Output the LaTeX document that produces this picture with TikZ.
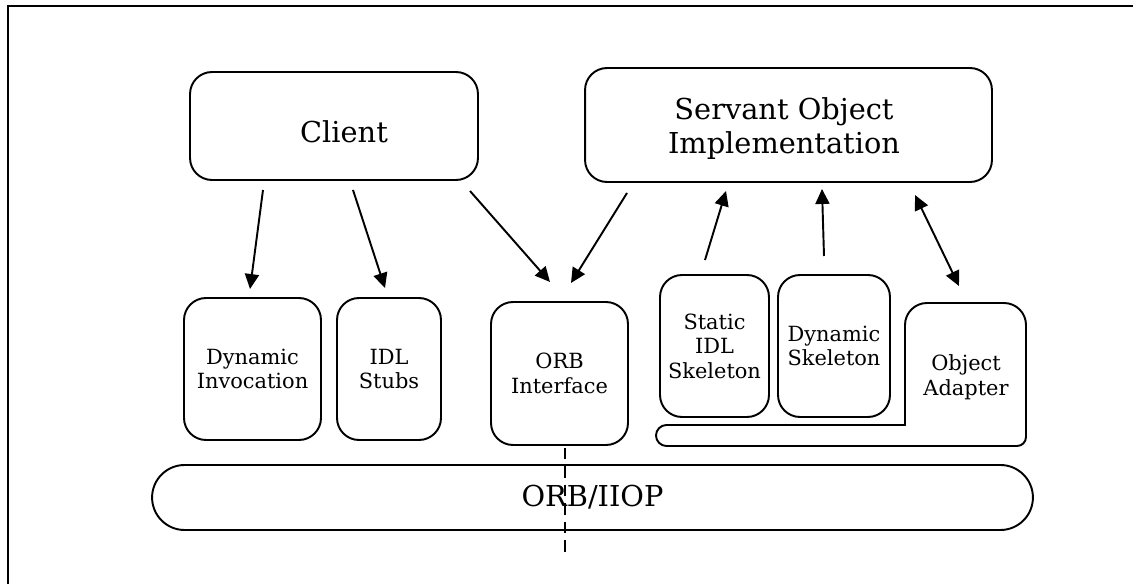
\documentclass[tikz,border=0pt]{standalone}
\usepackage{fontspec}
\setmainfont{DejaVu Serif}
\usetikzlibrary{arrows.meta}
\tikzset{
  box/.style={draw, line width=1.1pt, rounded corners=0.44cm, inner sep=0pt, align=center},
  bigtext/.style={font=\fontsize{16.4}{19.3}\selectfont},
  smalltext/.style={font=\fontsize{11.9}{14}\selectfont},
  link/.style={line width=1.1pt, -{Triangle[length=8.5pt,width=8pt]}},
  duallink/.style={line width=1.1pt, {Triangle[length=8.5pt,width=8pt]}-{Triangle[length=8.5pt,width=8pt]}},
}
\begin{document}
\begin{tikzpicture}[x=0.02cm, y=-0.02cm]
\useasboundingbox (0,0) rectangle (1133,584);
% outer frame (left and top edges)
\draw[line width=1.7pt] (8,584) -- (8,6) -- (1133,6);

% upper boxes, with their titles set slightly below centre
\node[box, minimum width=5.76cm, minimum height=2.16cm] (client) at (334,126) {};
\node[bigtext] (clienttext) at (344,132) {Client};
\node[box, minimum width=8.14cm, minimum height=2.28cm] (servant) at (788.5,125) {};
\node[bigtext, align=center] (servanttext) at (784,129) {Servant Object\\Implementation};

% client-side boxes
\node[box, smalltext, minimum width=2.74cm, minimum height=2.84cm] (dyninv) at (252.5,369) {Dynamic\\Invocation};
\node[box, smalltext, minimum width=2.08cm, minimum height=2.84cm] (stubs) at (389,369) {IDL\\Stubs};
\node[box, smalltext, minimum width=2.74cm, minimum height=2.86cm] (orbif) at (559.5,373.5) {ORB\\Interface};

% server-side boxes
\node[box, smalltext, minimum width=2.18cm, minimum height=2.84cm] (static) at (714.5,346) {Static\\IDL\\Skeleton};
\node[box, smalltext, minimum width=2.24cm, minimum height=2.84cm] (dynskel) at (834,346) {Dynamic\\Skeleton};

% object adapter: tall part with a base strip running under the skeletons
\draw[line width=1.1pt]
  (905,425) -- (905,380) [rounded corners=0.44cm] -- (905,303) -- (1026,303) -- (1026,380)
  [rounded corners=0.18cm] -- (1026,446) -- (800,446)
  [rounded corners=0.21cm] -- (656,446) -- (656,425) -- (800,425)
  [sharp corners] -- cycle;
\node[smalltext, align=center] (adapter) at (966,377) {Object\\Adapter};

% ORB bus
\node[box, bigtext, rounded corners=0.65cm, minimum width=17.62cm, minimum height=1.3cm] (bus) at (592.5,497.5) {ORB/IIOP};

% client / server divider
\coordinate (divtop) at (565,448);
\coordinate (divbot) at (565,556);
\draw[line width=1.1pt, dash pattern=on 6.5pt off 4pt] (divtop) -- (divbot);

% connector end points
\coordinate (c1) at (263,190); \coordinate (d1) at (250,289);
\coordinate (c2) at (353,190); \coordinate (d2) at (385,288);
\coordinate (c3) at (470,191); \coordinate (d3) at (550,282);
\coordinate (s4) at (627,193); \coordinate (d4) at (571,283);
\coordinate (k5) at (705,260); \coordinate (s5) at (726,191);
\coordinate (k6) at (824,256); \coordinate (s6) at (822,189);
\coordinate (s7) at (915,195); \coordinate (a7) at (959,286);

\draw[link] (c1) -- (d1);
\draw[link] (c2) -- (d2);
\draw[link] (c3) -- (d3);
\draw[link] (s4) -- (d4);
\draw[link] (k5) -- (s5);
\draw[link] (k6) -- (s6);
\draw[duallink] (s7) -- (a7);
\end{tikzpicture}
\end{document}
